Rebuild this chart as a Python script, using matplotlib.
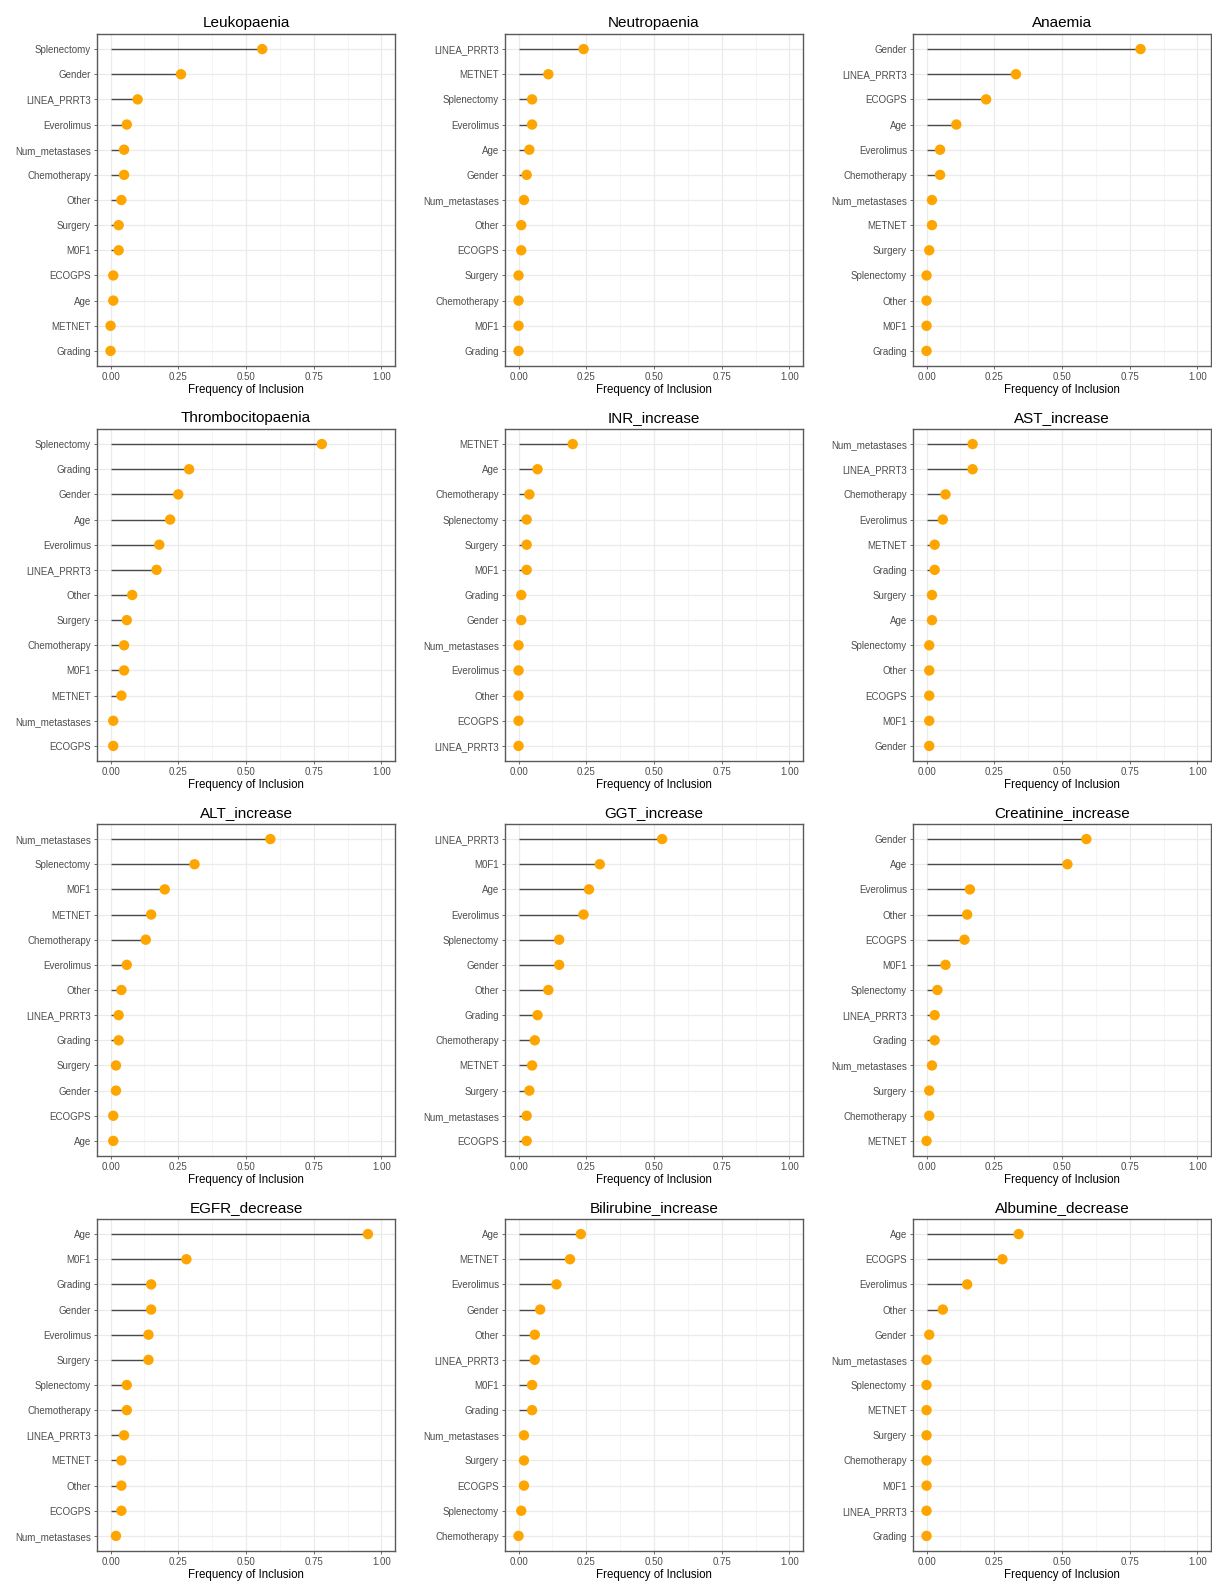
import matplotlib
matplotlib.use("Agg")
import matplotlib.pyplot as plt
import numpy as np

plt.rcParams['font.family'] = ['Liberation Sans', 'DejaVu Sans']

# ---------------- data (top-to-bottom order in each panel) ----------------
leuko_vars = ["Splenectomy", "Gender", "LINEA_PRRT3", "Everolimus", "Num_metastases", "Chemotherapy",
              "Other", "Surgery", "M0F1", "ECOGPS", "Age", "METNET", "Grading"]
leuko_vals = [0.56, 0.26, 0.10, 0.06, 0.05, 0.05, 0.04, 0.03, 0.03, 0.01, 0.01, 0.00, 0.00]

neutro_vars = ["LINEA_PRRT3", "METNET", "Splenectomy", "Everolimus", "Age", "Gender", "Num_metastases",
               "Other", "ECOGPS", "Surgery", "Chemotherapy", "M0F1", "Grading"]
neutro_vals = [0.24, 0.11, 0.05, 0.05, 0.04, 0.03, 0.02, 0.01, 0.01, 0.00, 0.00, 0.00, 0.00]

anaemia_vars = ["Gender", "LINEA_PRRT3", "ECOGPS", "Age", "Everolimus", "Chemotherapy", "Num_metastases",
                "METNET", "Surgery", "Splenectomy", "Other", "M0F1", "Grading"]
anaemia_vals = [0.79, 0.33, 0.22, 0.11, 0.05, 0.05, 0.02, 0.02, 0.01, 0.00, 0.00, 0.00, 0.00]

thrombo_vars = ["Splenectomy", "Grading", "Gender", "Age", "Everolimus", "LINEA_PRRT3", "Other",
                "Surgery", "Chemotherapy", "M0F1", "METNET", "Num_metastases", "ECOGPS"]
thrombo_vals = [0.78, 0.29, 0.25, 0.22, 0.18, 0.17, 0.08, 0.06, 0.05, 0.05, 0.04, 0.01, 0.01]

inr_vars = ["METNET", "Age", "Chemotherapy", "Splenectomy", "Surgery", "M0F1", "Grading", "Gender",
            "Num_metastases", "Everolimus", "Other", "ECOGPS", "LINEA_PRRT3"]
inr_vals = [0.20, 0.07, 0.04, 0.03, 0.03, 0.03, 0.01, 0.01, 0.00, 0.00, 0.00, 0.00, 0.00]

ast_vars = ["Num_metastases", "LINEA_PRRT3", "Chemotherapy", "Everolimus", "METNET", "Grading", "Surgery",
            "Age", "Splenectomy", "Other", "ECOGPS", "M0F1", "Gender"]
ast_vals = [0.17, 0.17, 0.07, 0.06, 0.03, 0.03, 0.02, 0.02, 0.01, 0.01, 0.01, 0.01, 0.01]

alt_vars = ["Num_metastases", "Splenectomy", "M0F1", "METNET", "Chemotherapy", "Everolimus", "Other",
            "LINEA_PRRT3", "Grading", "Surgery", "Gender", "ECOGPS", "Age"]
alt_vals = [0.59, 0.31, 0.20, 0.15, 0.13, 0.06, 0.04, 0.03, 0.03, 0.02, 0.02, 0.01, 0.01]

ggt_vars = ["LINEA_PRRT3", "M0F1", "Age", "Everolimus", "Splenectomy", "Gender", "Other", "Grading",
            "Chemotherapy", "METNET", "Surgery", "Num_metastases", "ECOGPS"]
ggt_vals = [0.53, 0.30, 0.26, 0.24, 0.15, 0.15, 0.11, 0.07, 0.06, 0.05, 0.04, 0.03, 0.03]

creat_vars = ["Gender", "Age", "Everolimus", "Other", "ECOGPS", "M0F1", "Splenectomy", "LINEA_PRRT3",
              "Grading", "Num_metastases", "Surgery", "Chemotherapy", "METNET"]
creat_vals = [0.59, 0.52, 0.16, 0.15, 0.14, 0.07, 0.04, 0.03, 0.03, 0.02, 0.01, 0.01, 0.00]

egfr_vars = ["Age", "M0F1", "Grading", "Gender", "Everolimus", "Surgery", "Splenectomy", "Chemotherapy",
             "LINEA_PRRT3", "METNET", "Other", "ECOGPS", "Num_metastases"]
egfr_vals = [0.95, 0.28, 0.15, 0.15, 0.14, 0.14, 0.06, 0.06, 0.05, 0.04, 0.04, 0.04, 0.02]

bili_vars = ["Age", "METNET", "Everolimus", "Gender", "Other", "LINEA_PRRT3", "M0F1", "Grading",
             "Num_metastases", "Surgery", "ECOGPS", "Splenectomy", "Chemotherapy"]
bili_vals = [0.23, 0.19, 0.14, 0.08, 0.06, 0.06, 0.05, 0.05, 0.02, 0.02, 0.02, 0.01, 0.00]

albu_vars = ["Age", "ECOGPS", "Everolimus", "Other", "Gender", "Num_metastases", "Splenectomy", "METNET",
             "Surgery", "Chemotherapy", "M0F1", "LINEA_PRRT3", "Grading"]
albu_vals = [0.34, 0.28, 0.15, 0.06, 0.01, 0.00, 0.00, 0.00, 0.00, 0.00, 0.00, 0.00, 0.00]

titles = ["Leukopaenia", "Neutropaenia", "Anaemia",
          "Thrombocitopaenia", "INR_increase", "AST_increase",
          "ALT_increase", "GGT_increase", "Creatinine_increase",
          "EGFR_decrease", "Bilirubine_increase", "Albumine_decrease"]
x_ticks = [0.00, 0.25, 0.50, 0.75, 1.00]
x_ticklabels = ["0.00", "0.25", "0.50", "0.75", "1.00"]
x_label = "Frequency of Inclusion"

panels = [
    (leuko_vars, leuko_vals), (neutro_vars, neutro_vals), (anaemia_vars, anaemia_vals),
    (thrombo_vars, thrombo_vals), (inr_vars, inr_vals), (ast_vars, ast_vals),
    (alt_vars, alt_vals), (ggt_vars, ggt_vals), (creat_vars, creat_vals),
    (egfr_vars, egfr_vals), (bili_vars, bili_vals), (albu_vars, albu_vals),
]

# ---------------- layout ----------------
W, H = 1212, 1583
fig = plt.figure(figsize=(W / 100, H / 100), dpi=100)
fig.patch.set_facecolor("white")

col_lefts = [97, 505, 913]
row_tops = [34, 429, 824, 1219]
ax_w, ax_h = 298, 332

for idx, ((vars_, vals), title) in enumerate(zip(panels, titles)):
    r, c = divmod(idx, 3)
    left = col_lefts[c]
    top = row_tops[r]
    ax = fig.add_axes([left / W, 1 - (top + ax_h) / H, ax_w / W, ax_h / H])
    n = len(vars_)
    y = np.arange(n, 0, -1)
    vals = np.asarray(vals, dtype=float)

    # grid (theme_bw style)
    ax.set_axisbelow(True)
    for xv in x_ticks:
        ax.axvline(xv, color="#EBEBEB", lw=0.9, zorder=0)
    for xv in [0.125, 0.375, 0.625, 0.875]:
        ax.axvline(xv, color="#F2F2F2", lw=0.5, zorder=0)
    for yv in y:
        ax.axhline(yv, color="#EBEBEB", lw=0.9, zorder=0)

    ax.hlines(y, 0, vals, color="#4A4A4A", lw=1.0, zorder=2)
    ax.scatter(vals, y, s=56, color="#FFA500", edgecolors="none", zorder=3)

    ax.set_xlim(-0.05, 1.05)
    ax.set_ylim(0.4, n + 0.6)
    ax.set_xticks(x_ticks)
    ax.set_xticklabels(x_ticklabels)
    ax.set_yticks(y)
    ax.set_yticklabels(vars_)
    ax.tick_params(axis="both", length=2.5, width=0.6, color="#555555",
                   labelcolor="#4D4D4D", labelsize=7, pad=1.8)
    ax.set_xlabel(x_label, fontsize=8.3, color="black", labelpad=1.5)
    ax.set_title(title, fontsize=11, color="black", pad=5)
    for sp in ax.spines.values():
        sp.set_color("#5A5A5A")
        sp.set_linewidth(1.0)

fig.savefig("out.png", dpi=100, facecolor="white")
